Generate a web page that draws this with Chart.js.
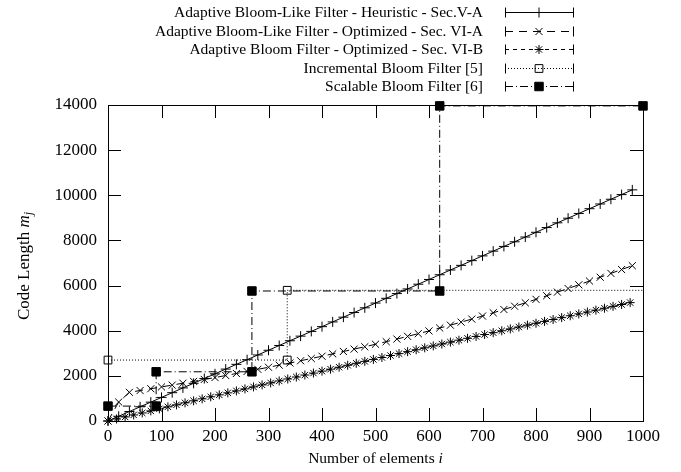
<!DOCTYPE html>
<html>
<head>
<meta charset="utf-8">
<script src="https://cdn.jsdelivr.net/npm/chart.js@4.4.1/dist/chart.umd.min.js"></script>
<style>
  body { margin: 0; background: #fff; }
  canvas { display: block; }
</style>
</head>
<body>
<canvas id="chart" width="681" height="472"></canvas>
<script>
// values
const seriesNames = [
  'Adaptive Bloom-Like Filter - Heuristic - Sec.V-A',
  'Adaptive Bloom-Like Filter - Optimized - Sec. VI-A',
  'Adaptive Bloom Filter - Optimized - Sec. VI-B',
  'Incremental Bloom Filter [5]',
  'Scalable Bloom Filter [6]'
];

const step20X = [0,20,40,60,80,100,120,140,160,180,200,220,240,260,280,300,320,340,360,380,
  400,420,440,460,480,500,520,540,560,580,600,620,640,660,680,700,720,740,760,780,
  800,820,840,860,880,900,920,940,960,980];

const heuristicY = [0,210,420,630,835,1045,1255,1465,1670,1880,2090,2300,2510,2715,2925,3135,3345,3555,3760,3970,
  4180,4390,4600,4805,5015,5225,5435,5645,5850,6060,6270,6480,6690,6895,7105,7315,7525,7735,7940,8150,
  8360,8570,8780,8985,9195,9405,9615,9825,10030,10240];

const optimizedAY = [0,840,1270,1350,1430,1510,1590,1675,1755,1840,1925,2015,2105,2195,2290,2380,2475,2570,2670,2770,
  2870,2975,3080,3185,3290,3400,3515,3630,3750,3870,3990,4120,4245,4380,4515,4650,4795,4940,5085,5235,
  5390,5550,5710,5870,6035,6200,6370,6540,6710,6880];

const step16X = [0,16,32,48,64,80,96,112,128,144,160,176,192,208,224,240,256,272,288,304,
  320,336,352,368,384,400,416,432,448,464,480,496,512,528,544,560,576,592,608,624,
  640,656,672,688,704,720,736,752,768,784,800,816,832,848,864,880,896,912,928,944,960,976];

const optimizedBY = [0,90,179,269,358,448,538,627,715,804,893,982,1071,1159,1247,1335,1423,1511,1599,1687,
  1774,1861,1948,2036,2123,2210,2296,2383,2469,2556,2642,2728,2814,2900,2985,3071,3157,3242,3327,3411,
  3495,3579,3663,3747,3831,3914,3997,4080,4164,4247,4330,4413,4496,4580,4663,4746,4829,4912,4996,5079,5162,5245];

const incrementalX = [0, 335, 335, 1000];
const incrementalY = [2700, 2700, 5790, 5790];

const scalableX = [0, 90, 90, 269, 269, 620, 620, 1000];
const scalableY = [660, 660, 2180, 2180, 5760, 5760, 13960, 13960];

const xTicks = [0,100,200,300,400,500,600,700,800,900,1000];
const yTicks = [0,2000,4000,6000,8000,10000,12000,14000];

const FONT = '"Liberation Serif", "DejaVu Serif", serif';
const TICK_FS = 17;   // tick labels
const TEXT_FS = 15.5; // key and x title
const YT_FS = 17;     // y title

function pts(xs, ys) {
  return xs.map((x, i) => ({ x: x, y: ys[i] }));
}

const base = {
  borderColor: '#000',
  borderWidth: 1,
  pointBorderColor: '#000',
  pointBorderWidth: 1,
  fill: false,
  tension: 0,
  clip: false
};

const datasets = [
  Object.assign({}, base, {
    label: seriesNames[0], data: pts(step20X, heuristicY),
    borderDash: [], pointStyle: 'cross', pointRadius: 5, pointBackgroundColor: '#000'
  }),
  Object.assign({}, base, {
    label: seriesNames[1], data: pts(step20X, optimizedAY),
    borderDash: [8, 6], pointStyle: 'crossRot', pointRadius: 5, pointBackgroundColor: '#000'
  }),
  Object.assign({}, base, {
    label: seriesNames[2], data: pts(step16X, optimizedBY),
    borderDash: [4, 4], pointStyle: 'star', pointRadius: 4.5, pointBackgroundColor: '#000'
  }),
  Object.assign({}, base, {
    label: seriesNames[3], data: pts(incrementalX, incrementalY),
    borderDash: [1, 2], pointStyle: 'rect', pointRadius: [5.5, 5.5, 5.5, 0],
    pointBackgroundColor: 'rgba(0,0,0,0)'
  }),
  Object.assign({}, base, {
    label: seriesNames[4], data: pts(scalableX, scalableY),
    borderDash: [8, 3, 1, 3], pointStyle: 'rect', pointRadius: 6, pointBackgroundColor: '#000'
  })
];

// frame, inward mirrored ticks, axis titles and the gnuplot-like key
const gnuplotLook = {
  id: 'gnuplotLook',
  beforeDatasetsDraw(chart) {
    const ctx = chart.ctx;
    const a = chart.chartArea;
    const xs = chart.scales.x, ys = chart.scales.y;
    const tl = 13;
    ctx.save();
    ctx.strokeStyle = '#000';
    ctx.lineWidth = 1;
    ctx.setLineDash([]);
    ctx.beginPath();
    xTicks.forEach(v => {
      const px = Math.round(xs.getPixelForValue(v)) + 0.5;
      ctx.moveTo(px, a.bottom); ctx.lineTo(px, a.bottom - tl);
      ctx.moveTo(px, a.top); ctx.lineTo(px, a.top + tl);
    });
    yTicks.forEach(v => {
      const py = Math.round(ys.getPixelForValue(v)) + 0.5;
      ctx.moveTo(a.left, py); ctx.lineTo(a.left + tl, py);
      ctx.moveTo(a.right, py); ctx.lineTo(a.right - tl, py);
    });
    ctx.stroke();
    ctx.strokeRect(Math.round(a.left) + 0.5, Math.round(a.top) + 0.5,
      Math.round(a.right - a.left), Math.round(a.bottom - a.top));
    ctx.restore();
  },
  afterDraw(chart) {
    const ctx = chart.ctx;
    const a = chart.chartArea;
    const fs = TEXT_FS;
    ctx.save();
    ctx.fillStyle = '#000';
    ctx.textBaseline = 'middle';

    // x title
    const xA = 'Number of elements ', xB = 'i';
    ctx.font = fs + 'px ' + FONT;
    const wA = ctx.measureText(xA).width;
    ctx.font = 'italic ' + fs + 'px ' + FONT;
    const wB = ctx.measureText(xB).width;
    let sx = (a.left + a.right) / 2 - (wA + wB) / 2;
    ctx.textAlign = 'left';
    ctx.font = fs + 'px ' + FONT;
    ctx.fillText(xA, sx, 459);
    ctx.font = 'italic ' + fs + 'px ' + FONT;
    ctx.fillText(xB, sx + wA, 459);

    // y title, rotated
    ctx.save();
    ctx.translate(25, 266);
    ctx.rotate(-Math.PI / 2);
    const yA = 'Code Length ', yB = 'm', yC = 'j';
    ctx.font = YT_FS + 'px ' + FONT;
    const w1 = ctx.measureText(yA).width;
    ctx.font = 'italic ' + YT_FS + 'px ' + FONT;
    const w2 = ctx.measureText(yB).width;
    ctx.font = 'italic 12px ' + FONT;
    const w3 = ctx.measureText(yC).width;
    let st = -(w1 + w2 + w3) / 2;
    ctx.font = YT_FS + 'px ' + FONT;
    ctx.fillText(yA, st, 0);
    ctx.font = 'italic ' + YT_FS + 'px ' + FONT;
    ctx.fillText(yB, st + w1, 0);
    ctx.font = 'italic 12px ' + FONT;
    ctx.fillText(yC, st + w1 + w2, 4);
    ctx.restore();

    // key
    const textRight = 483, lineL = 505, lineR = 573, mid = 539;
    chart.data.datasets.forEach((ds, i) => {
      const y = Math.round(12 + i * 18.6) + 0.5;
      ctx.font = fs + 'px ' + FONT;
      ctx.textAlign = 'right';
      ctx.fillStyle = '#000';
      ctx.fillText(ds.label, textRight, y);
      ctx.strokeStyle = '#000';
      ctx.lineWidth = 1;
      ctx.setLineDash(ds.borderDash);
      ctx.beginPath();
      ctx.moveTo(lineL, y); ctx.lineTo(lineR, y);
      ctx.stroke();
      ctx.setLineDash([]);
      ctx.beginPath();
      ctx.moveTo(lineL + 0.5, y - 5); ctx.lineTo(lineL + 0.5, y + 5);
      ctx.moveTo(lineR + 0.5, y - 5); ctx.lineTo(lineR + 0.5, y + 5);
      ctx.stroke();
      const r = Array.isArray(ds.pointRadius) ? ds.pointRadius[0] : ds.pointRadius;
      ctx.fillStyle = ds.pointBackgroundColor;
      Chart.helpers.drawPoint(ctx, {
        pointStyle: ds.pointStyle, radius: r, rotation: 0, borderWidth: 1
      }, mid, y);
    });
    ctx.restore();
  }
};

new Chart(document.getElementById('chart').getContext('2d'), {
  type: 'line',
  data: { datasets: datasets },
  options: {
    responsive: false,
    animation: false,
    events: [],
    layout: { padding: { top: 105, right: 38, left: 0, bottom: 0 } },
    plugins: { legend: { display: false }, tooltip: { enabled: false } },
    scales: {
      x: {
        type: 'linear', min: 0, max: 1000,
        afterFit: s => { s.height = 51; },
        afterBuildTicks: s => { s.ticks = xTicks.map(v => ({ value: v })); },
        grid: { display: false, drawTicks: false },
        border: { display: false },
        ticks: { color: '#000', padding: 5, maxRotation: 0, callback: v => String(v),
                 font: { family: FONT, size: TICK_FS } }
      },
      y: {
        type: 'linear', min: 0, max: 14000,
        afterFit: s => { s.width = 108; },
        afterBuildTicks: s => { s.ticks = yTicks.map(v => ({ value: v })); },
        grid: { display: false, drawTicks: false },
        border: { display: false },
        ticks: { color: '#000', padding: 11, callback: v => String(v),
                 font: { family: FONT, size: TICK_FS } }
      }
    }
  },
  plugins: [gnuplotLook]
});
</script>
</body>
</html>
